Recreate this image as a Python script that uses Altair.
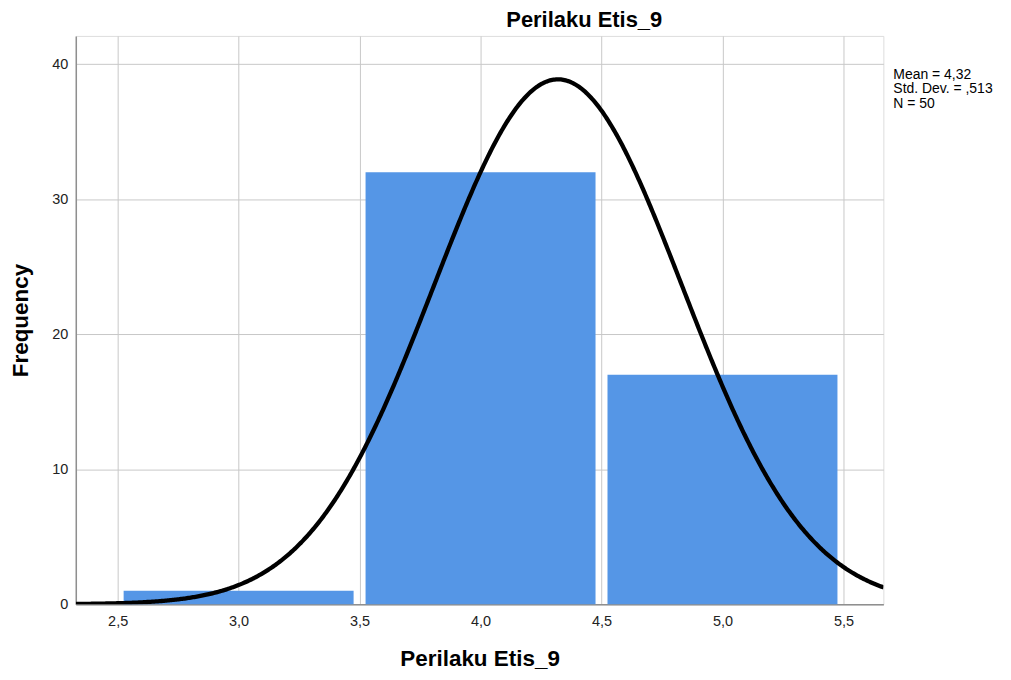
import altair as alt
import pandas as pd

# ---- data ----
bin_start = [2.5, 3.5, 4.5]
bin_end = [3.5, 4.5, 5.5]
counts = [1, 32, 17]
mean_val = 4.32
sd_val = 0.513
n_val = 50
bin_width = 1.0
x_ticks = [2.5, 3.0, 3.5, 4.0, 4.5, 5.0, 5.5]
y_ticks = [0, 10, 20, 30, 40]
x_domain = [2.327, 5.665]
y_domain = [0, 42.1]
stats_lines = ["Mean = 4,32", "Std. Dev. = ,513", "N = 50"]
title_text = "Perilaku Etis_9"
x_title = "Perilaku Etis_9"
y_title = "Frequency"

FONT = "Liberation Sans"
BLUE = "#5596e6"

bars_df = pd.DataFrame({"start": bin_start, "end": bin_end, "count": counts})

xscale = alt.Scale(domain=x_domain, nice=False, zero=False)
yscale = alt.Scale(domain=y_domain, nice=False, zero=True)

common = dict(grid=True, gridColor="#c8c8c8", gridWidth=1,
              domainColor="#8f8f8f", domainWidth=1.5, ticks=False,
              labelFontSize=14.5, labelFont=FONT, labelColor="#222222",
              titleFont=FONT, titleFontSize=22.5, titleFontWeight="bold",
              titleColor="#000000")

x_axis = alt.Axis(values=x_ticks, title=x_title,
                  labelExpr="replace(format(datum.value, '.1f'), '.', ',')",
                  labelPadding=10, titlePadding=20, **common)
y_axis = alt.Axis(values=y_ticks, title=y_title, format="d",
                  labelPadding=8, titlePadding=19, **common)

bars = alt.Chart(bars_df).mark_bar(
    color=BLUE, xOffset=6, x2Offset=-6
).encode(
    x=alt.X("start:Q", scale=xscale, axis=x_axis, title=x_title),
    x2="end:Q",
    y=alt.Y("count:Q", scale=yscale, axis=y_axis, title=y_title),
    y2=alt.datum(0),
)

coef = n_val * bin_width / (sd_val * (2 * 3.141592653589793) ** 0.5)
curve = alt.Chart(alt.sequence(x_domain[0], x_domain[1] + 0.005, 0.005, as_="xv")).transform_calculate(
    yv=f"{coef} * exp(-0.5 * pow((datum.xv - {mean_val}) / {sd_val}, 2))"
).mark_line(color="black", strokeWidth=4.3, clip=True).encode(
    x=alt.X("xv:Q", scale=xscale, title=x_title),
    y=alt.Y("yv:Q", scale=yscale, title=y_title),
)

title = alt.Chart(pd.DataFrame({"t": [title_text]})).mark_text(
    font=FONT, fontSize=22, fontWeight="bold", color="#000000",
    align="center", baseline="top"
).encode(text="t:N", x=alt.value(510), y=alt.value(-26))

stats = alt.Chart(pd.DataFrame({"t": ["\n".join(stats_lines)]})).mark_text(
    font=FONT, fontSize=14, color="#000000", align="left", baseline="alphabetic",
    lineBreak="\n", lineHeight=14.6
).encode(text="t:N", x=alt.value(820), y=alt.value(43))

chart = alt.layer(bars, curve, title, stats).properties(
    width=810, height=570,
    autosize=alt.AutoSizeParams(type="none"),
    padding={"left": 68, "top": 27, "right": 120, "bottom": 70},
).configure_view(stroke=None).configure(background="white")

chart.save("out.html", embed_options={"renderer": "svg", "actions": False})
